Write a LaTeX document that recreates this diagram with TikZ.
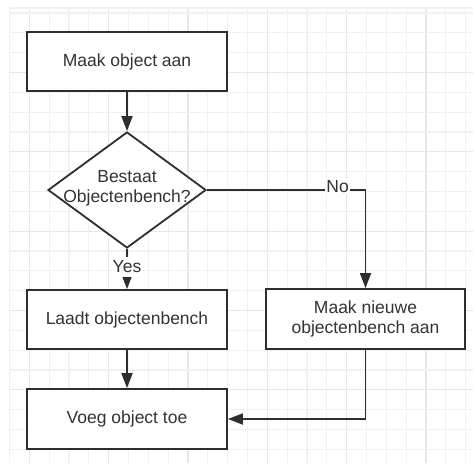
\documentclass[tikz,border=0pt]{standalone}
\usepackage{fontspec}
\setmainfont{Liberation Sans}
\usetikzlibrary{arrows.meta,shapes.geometric}
\definecolor{ink}{HTML}{2E2E2E}
\definecolor{txt}{HTML}{333333}
\definecolor{gridminor}{HTML}{F1F1F1}
\definecolor{gridmajor}{HTML}{E7E7E7}
\tikzset{
  every node/.style={font=\fontsize{17.5}{20}\selectfont, text=txt},
  box/.style={draw=ink, line width=1.8pt, fill=white, minimum width=200pt,
    minimum height=59pt, inner sep=0pt, align=center},
  decision/.style={draw=ink, line width=1.8pt, fill=white, diamond,
    minimum width=158pt, minimum height=116pt, inner sep=0pt},
  flow/.style={draw=ink, line width=1.8pt,
    -{Triangle[length=15pt,width=11pt]}},
  edgelabel/.style={fill=white, inner xsep=1pt, inner ysep=4pt}
}
\begin{document}
\begin{tikzpicture}[x=1pt,y=-1pt]
  \useasboundingbox (0,0) rectangle (473,465);
  \fill[white] (0,0) rectangle (473,465);
  % background grid, every fourth line a little darker
  \foreach \k in {0,...,23} {
    \pgfmathsetmacro{\gx}{9.5+\k*19.83}
    \pgfmathtruncatemacro{\m}{mod(\k,4)}
    \ifnum\m=1
      \draw[gridmajor, line width=1.2pt] (\gx,8) -- (\gx,463);
    \else
      \draw[gridminor, line width=1.2pt] (\gx,8) -- (\gx,463);
    \fi
  }
  \foreach \k in {0,...,22} {
    \pgfmathsetmacro{\gy}{13+\k*19.83}
    \pgfmathtruncatemacro{\m}{mod(\k,4)}
    \ifnum\m=3
      \draw[gridmajor, line width=1.2pt] (9,\gy) -- (473,\gy);
    \else
      \draw[gridminor, line width=1.2pt] (9,\gy) -- (473,\gy);
    \fi
  }
  \draw[gridminor, line width=1.2pt] (9,8) -- (473,8);

  % flowchart steps
  \node[box] (make) at (127,61.5) {Maak object aan};
  \node[decision] (exists) at (127,190) {};
  \node[align=center, inner sep=0pt] (existstext) at (127,188)
    {Bestaat\\Objectenbench?};
  \node[box] (load) at (127,319.5) {Laadt objectenbench};
  \node[box, minimum width=199pt, minimum height=60pt] (new) at (365.5,319)
    {Maak nieuwe\\objectenbench aan};
  \node[box, minimum height=60pt] (add) at (127,419) {Voeg object toe};

  % connectors
  \draw[flow] (make) -- (exists);
  \draw[flow] (exists.south) -- (load.north)
    node[edgelabel, pos=0.45] (yes) {Yes};
  \draw[flow] (exists.east) -| (new.north)
    node[edgelabel, pos=0.412, yshift=3.5pt, inner ysep=1pt] (no) {No};
  \draw[flow] (load) -- (add);
  \draw[flow] (new.south) |- (add.east);
\end{tikzpicture}
\end{document}
